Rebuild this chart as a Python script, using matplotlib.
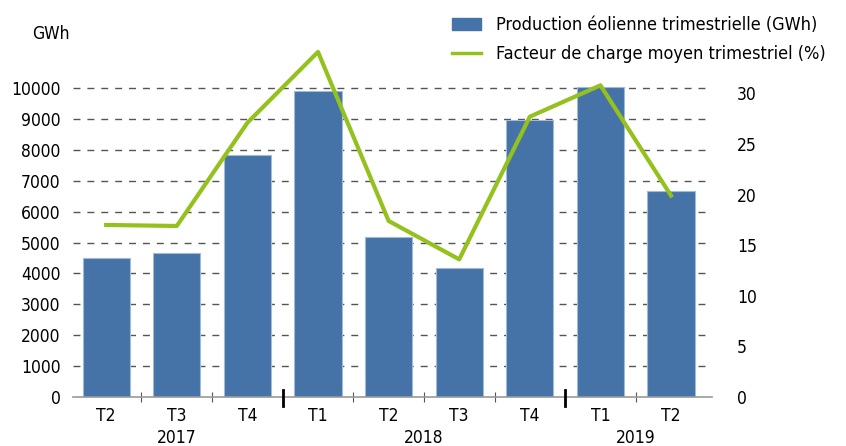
import matplotlib.pyplot as plt
from matplotlib.patches import Patch
from matplotlib.lines import Line2D
import numpy as np

plt.rcParams['font.family'] = ['DejaVu Sans']
plt.rcParams['font.stretch'] = 'condensed'

# Trimestres du T2 2017 au T2 2019
trimestres = ['T2', 'T3', 'T4', 'T1', 'T2', 'T3', 'T4', 'T1', 'T2']
annees = ['2017', '2018', '2019']
annees_pos = [1, 4.5, 7.5]
separateurs = [2.5, 6.5]

# Production éolienne (GWh) et facteur de charge (%)
production = [4500, 4650, 7830, 9900, 5180, 4170, 8960, 10030, 6670]
facteur_charge = [17.0, 16.9, 27.1, 34.1, 17.4, 13.6, 27.7, 30.8, 19.9]

bleu = '#4573a7'
vert = '#95c11f'
fs = 12.5

fig = plt.figure(figsize=(8.46, 4.46), dpi=100)
ax = fig.add_axes([73/846, 1 - 397/446, (712 - 73)/846, 340/446])
x = np.arange(len(trimestres))

ax.bar(x, production, width=0.67, color=bleu, edgecolor='#9fbbd8', linewidth=0.8, zorder=2)
ax.set_xlim(-0.47, 8.58)
ymax = 10000 * 340 / (397 - 88)
ax.set_ylim(0, ymax)
ax.set_yticks(range(0, 10001, 1000))
ax.tick_params(axis='y', length=0, labelsize=fs, pad=9)
for v in range(1000, 10001, 1000):
    ax.axhline(v, color='#555555', linestyle=(0, (5, 5)), linewidth=1, zorder=1)

for s in ['top', 'right', 'left']:
    ax.spines[s].set_visible(False)
ax.spines['bottom'].set_color('#999999')
ax.spines['bottom'].set_linewidth(1.2)

# étiquettes des trimestres et des années
ax.set_xticks(x)
ax.set_xticklabels(trimestres, fontsize=fs)
ax.tick_params(axis='x', length=0, pad=7)
ax.set_xticks(np.arange(0.5, 8, 1), minor=True)
ax.tick_params(axis='x', which='minor', direction='inout', length=7, width=0.8, color='#555555')
for s in separateurs:
    ax.plot([s, s], [-0.025 * ymax, 0.02 * ymax], color='black', linewidth=2,
            clip_on=False, zorder=4)
for p, a in zip(annees_pos, annees):
    ax.text(p, -1340, a, ha='center', va='center', fontsize=fs)

ax.text(-0.47 - 0.58, 11750, 'GWh', ha='left', va='center', fontsize=fs)

# axe secondaire du facteur de charge
ax2 = ax.twinx()
ax2.set_ylim(0, 30 * ymax / ((397 - 93.4) / 397 * 10000 * 397 / (397 - 88)))
ax2.set_yticks(range(0, 31, 5))
ax2.tick_params(axis='y', length=0, labelsize=fs, pad=18)
for s in ['top', 'right', 'left', 'bottom']:
    ax2.spines[s].set_visible(False)
ax2.plot(x, facteur_charge, color=vert, linewidth=3, clip_on=False, zorder=3)

handles = [Patch(facecolor=bleu, edgecolor=bleu),
           Line2D([], [], color=vert, linewidth=2.5)]
labels = ['Production éolienne trimestrielle (GWh)',
          'Facteur de charge moyen trimestriel (%)']
fig.legend(handles, labels, loc='upper left', bbox_to_anchor=(436/846, 1.0),
           frameon=False, fontsize=13, handlelength=1.6, labelspacing=0.6,
           handletextpad=0.8)

fig.savefig('out.png', dpi=100)
